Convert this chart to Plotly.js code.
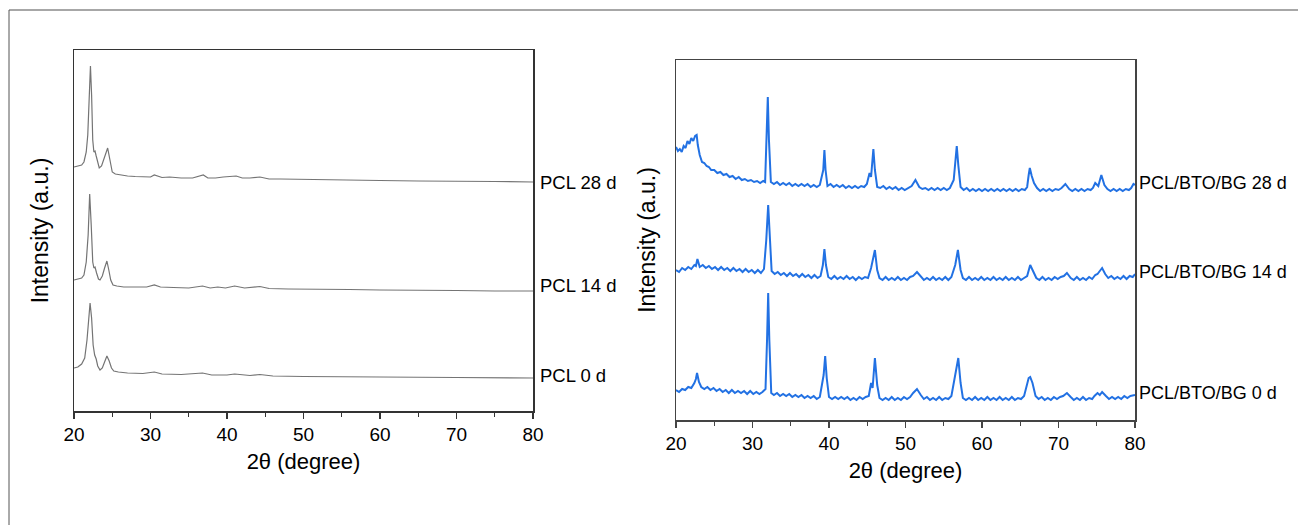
<!DOCTYPE html>
<html>
<head>
<meta charset="utf-8">
<script src="https://cdn.plot.ly/plotly-3.0.1.min.js"></script>
<style>html,body{margin:0;padding:0;background:#fff;}#chart{width:1298px;height:525px;}</style>
</head>
<body>
<div id="chart"></div>
<script>
// ---- Left panel: PCL (2θ in degree, intensity in a.u., stacked) ----
const pcl28_x = [20,20.5,21,21.3,21.6,21.8,22,22.15,22.3,22.45,22.6,22.75,22.9,23.1,23.3,23.6,23.9,24.2,24.4,24.6,24.8,25,25.4,26,27,28,29,30,30.5,31,31.5,32.5,34,35.5,36.5,36.9,37.5,38.5,39.5,40.5,41.2,42,43,44.3,45.5,47,50,55,60,65,70,75,80];
const pcl28_y = [244,245,246,249,259,276,311,345,316,271,259,260,255,248,243,245,251,259,263,255,245,239,237,236,235,234.5,234,234,236,235,233.5,234,233,233,235,236,233,233,234,234.5,235,233,233,234,232,232,231.5,231,230.5,230,230,229.5,229];

const pcl14_x = [20,20.5,21,21.3,21.6,21.85,22.05,22.25,22.45,22.6,22.75,22.95,23.2,23.4,23.7,24,24.3,24.55,24.8,25.1,25.6,26.5,28,29.5,30.5,31.3,33,35,36.8,37.8,38.8,39.8,41,42.3,44.3,45.5,48,52,56,60,65,70,75,80];
const pcl14_y = [131,132,133,136,149,176,217,186,149,143,144,138,132,131,135,143,150,141,131,126,125,124,124,124,126,124,123.5,123,125,123,124,123,125,123,124.5,122.5,122,122,121.5,121,121,120.5,120,120];

const pcl0_x = [20,20.5,21,21.4,21.7,21.95,22.1,22.3,22.5,22.7,22.9,23.1,23.4,23.7,24,24.3,24.6,24.9,25.2,25.8,27,29,30.5,31.5,34,36.8,38,40,41,43,44.3,46,50,55,60,70,80];
const pcl0_y = [43,44,47,53,71,99,108,93,66,56,52,45,41,43,49,55,50,43,40,39,38,37.5,39,37,36.5,38,36,36,37,35.5,36.5,35,34.5,34,34,33.5,33];

// ---- Right panel: PCL/BTO/BG ----
const bg28_x = [20,20.25,20.5,20.75,21,21.25,21.5,21.75,22,22.25,22.5,22.7,22.85,23.1,23.4,23.7,24,24.3,24.6,25,25.4,25.8,26.2,26.6,27,27.4,27.8,28.2,28.6,29,29.4,29.8,30.2,30.6,31,31.4,31.65,31.85,32,32.15,32.4,32.8,33.2,33.6,34,34.4,34.8,35.2,35.6,36,36.4,36.8,37.2,37.6,38,38.4,38.8,39.25,39.4,39.55,39.8,40.2,40.6,41,41.4,41.8,42.2,42.6,43,43.4,43.8,44.2,44.6,44.95,45.3,45.5,45.8,46,46.3,46.7,47.1,47.5,47.9,48.3,48.7,49.1,49.5,49.9,50.3,50.8,51.3,51.8,52.2,52.6,53,53.4,53.8,54.2,54.6,55,55.4,55.8,56.3,56.5,56.7,56.9,57.2,57.6,58,58.4,58.8,59.2,59.6,60,60.4,60.8,61.2,61.6,62,62.4,62.8,63.2,63.6,64,64.4,64.8,65.2,65.6,65.9,66.1,66.25,66.5,66.8,67.2,67.6,68,68.4,68.8,69.2,69.6,70,70.4,70.9,71.4,71.8,72.2,72.6,73,73.4,73.8,74.2,74.5,74.8,75.2,75.6,76,76.4,76.8,77.2,77.6,78,78.4,78.8,79.2,79.5,79.8,80];
const bg28_y = [273,269,271,268,274,272,279,276,282,279,284,285,275,265,258,257,254,253,250,250,247,248,245,246,243,244,241,243,240,241,239,240,238,239,237,239,238,280,323,280,238,236,238,235,237,235,237,234,236,234,236,234,236,233,235,233,235,250,270,250,234,236,233,235,233,235,232,234,232,234,232,234,233,236,247,243,271,250,233,232,234,231,233,231,233,230,232,230,232,234,240,233,231,232,230,232,230,232,230,232,230,232,240,255,274,255,233,230,232,229,231,229,231,229,231,229,231,229,231,229,231,229,231,229,231,229,231,230,233,245,252,244,237,232,229,231,229,231,229,231,230,232,236,231,229,231,229,231,229,231,230,232,237,234,245,235,231,229,231,229,231,229,231,230,232,236,235];

const bg14_x = [20,20.4,20.8,21.2,21.6,22,22.4,22.6,22.8,23.1,23.5,23.9,24.3,24.7,25.1,25.5,25.9,26.3,26.7,27.1,27.5,27.9,28.3,28.7,29.1,29.5,29.9,30.3,30.7,31.1,31.5,31.8,32.05,32.25,32.5,32.9,33.3,33.7,34.1,34.5,34.9,35.3,35.7,36.1,36.5,36.9,37.3,37.7,38.1,38.5,38.9,39.2,39.4,39.6,39.9,40.3,40.7,41.1,41.5,41.9,42.3,42.7,43.1,43.5,43.9,44.3,44.7,45.1,45.5,46,46.3,46.6,47,47.4,47.8,48.2,48.6,49,49.4,49.8,50.2,50.6,51,51.5,52,52.4,52.8,53.2,53.6,54,54.4,54.8,55.2,55.6,56,56.5,56.85,57.2,57.5,57.9,58.3,58.7,59.1,59.5,59.9,60.3,60.7,61.1,61.5,61.9,62.3,62.7,63.1,63.5,63.9,64.3,64.7,65.1,65.5,65.9,66.3,66.7,67.1,67.5,67.9,68.3,68.7,69.1,69.5,69.9,70.3,70.7,71.1,71.6,72,72.4,72.8,73.2,73.6,74,74.4,74.8,75.1,75.3,75.7,76.1,76.5,76.9,77.3,77.7,78.1,78.5,78.9,79.3,79.7,80];
const bg14_y = [150,148,152,150,153,151,155,154,161,153,155,152,154,151,153,150,153,150,152,149,152,149,151,148,151,148,150,147,150,147,151,180,215,180,149,146,148,145,147,144,147,144,146,143,146,143,145,142,145,142,144,155,171,155,143,141,144,141,143,141,144,141,143,140,143,141,143,142,152,170,150,142,140,143,140,142,140,143,140,142,140,143,144,148,143,140,142,140,143,140,142,140,143,140,143,155,170,150,142,140,143,140,142,140,143,140,142,140,143,140,142,140,143,140,142,140,143,140,142,144,155,148,142,140,143,140,142,140,143,141,143,144,147,142,140,143,140,142,140,143,141,145,146,148,152,146,142,144,141,143,141,144,141,144,143,146];

const bg0_x = [20,20.4,20.8,21.2,21.6,22,22.4,22.6,22.75,23,23.3,23.7,24.1,24.5,24.9,25.3,25.7,26.1,26.5,26.9,27.3,27.7,28.1,28.5,28.9,29.3,29.7,30.1,30.5,30.9,31.3,31.7,31.9,32.05,32.2,32.45,32.8,33.2,33.6,34,34.4,34.8,35.2,35.6,36,36.4,36.8,37.2,37.6,38,38.4,38.8,39.3,39.5,39.7,40,40.4,40.8,41.2,41.6,42,42.4,42.8,43.2,43.6,44,44.4,44.8,45.2,45.5,45.7,46,46.3,46.6,47,47.4,47.8,48.2,48.6,49,49.4,49.8,50.2,50.6,51,51.5,52,52.4,52.8,53.2,53.6,54,54.4,54.8,55.2,55.6,56,56.4,56.9,57.2,57.5,57.9,58.3,58.7,59.1,59.5,59.9,60.3,60.7,61.1,61.5,61.9,62.3,62.7,63.1,63.5,63.9,64.3,64.7,65.1,65.5,66.1,66.3,66.6,67,67.4,67.8,68.2,68.6,69,69.4,69.8,70.2,70.6,71.1,71.6,72,72.4,72.8,73.2,73.6,74,74.4,74.7,75.1,75.4,75.7,76.2,76.6,77,77.4,77.8,78.2,78.6,79,79.4,79.8,80];
const bg0_y = [30,28,31,30,33,32,37,41,47,38,33,31,33,30,32,29,31,28,30,27,30,27,29,27,29,26,29,26,28,26,28,31,80,127,80,27,25,27,24,26,24,26,23,25,23,25,22,24,22,24,21,23,45,64,42,23,21,23,21,23,21,23,20,22,20,23,21,23,24,37,32,62,35,22,20,22,20,23,20,22,20,23,21,23,27,31,25,21,23,20,22,20,23,20,22,21,24,42,62,37,22,20,22,20,23,20,22,20,23,20,22,20,23,20,22,20,23,20,22,21,24,42,43,37,24,21,23,20,22,20,23,21,23,24,27,23,20,22,20,23,20,22,21,24,27,25,28,24,21,23,21,23,21,24,22,24,25,25];

const leftLabels = ["PCL 28 d", "PCL 14 d", "PCL 0 d"];
const rightLabels = ["PCL/BTO/BG 28 d", "PCL/BTO/BG 14 d", "PCL/BTO/BG 0 d"];
const xTickVals = [20,30,40,50,60,70,80];
const xTitle = "2θ (degree)";
const yTitle = "Intensity (a.u.)";

const W = 1298, H = 525;
const px = v => v / W, py = v => 1 - v / H;

const grey = "#747474", blue = "#2271e3";
const FONT = "Liberation Sans, Arial, Helvetica, sans-serif";

function tr(x, y, xa, ya, color, width, name) {
  return {x: x, y: y, xaxis: xa, yaxis: ya, type: "scatter", mode: "lines",
          line: {color: color, width: width}, name: name, showlegend: false, hoverinfo: "skip"};
}

const data = [
  tr(pcl28_x, pcl28_y, "x", "y", grey, 1.2, leftLabels[0]),
  tr(pcl14_x, pcl14_y, "x", "y", grey, 1.2, leftLabels[1]),
  tr(pcl0_x, pcl0_y, "x", "y", grey, 1.2, leftLabels[2]),
  tr(bg28_x, bg28_y, "x2", "y2", blue, 2, rightLabels[0]),
  tr(bg14_x, bg14_y, "x2", "y2", blue, 2, rightLabels[1]),
  tr(bg0_x, bg0_y, "x2", "y2", blue, 2, rightLabels[2])
];

function xaxis(domain, anchor, lineColor) {
  return {
    domain: domain, anchor: anchor, range: [20, 80], tickvals: xTickVals,
    showline: true, linecolor: lineColor, linewidth: 1.5, mirror: true,
    ticks: "outside", ticklen: 6, tickwidth: 1.2, tickcolor: lineColor,
    minor: {tickvals: [25,35,45,55,65,75], ticks: "outside", ticklen: 4, tickwidth: 1.2, tickcolor: lineColor},
    showgrid: false, zeroline: false,
    tickfont: {family: FONT, size: 19, color: "#000"},
    title: {text: xTitle, font: {family: FONT, size: 22, color: "#000"}, standoff: 9},
    automargin: false, fixedrange: true
  };
}
function yaxis(domain, anchor, lineColor, range, standoff) {
  return {
    domain: domain, anchor: anchor, range: range,
    showline: true, linecolor: lineColor, linewidth: 1.5, mirror: true,
    ticks: "", showticklabels: false, showgrid: false, zeroline: false,
    title: {text: yTitle, font: {family: FONT, size: 23, color: "#000"}, standoff: standoff},
    automargin: false, fixedrange: true
  };
}

const ann = [];
const leftLabelY = [182, 285, 375];
const rightLabelY = [183, 272, 393];
leftLabels.forEach((t, i) => ann.push({text: t, xref: "paper", yref: "paper", x: px(538), y: py(leftLabelY[i]),
  xanchor: "left", yanchor: "middle", showarrow: false, font: {family: FONT, size: 18.5, color: "#000"}}));
rightLabels.forEach((t, i) => ann.push({text: t, xref: "paper", yref: "paper", x: px(1137), y: py(rightLabelY[i]),
  xanchor: "left", yanchor: "middle", showarrow: false, font: {family: FONT, size: 18, color: "#000"}}));

const layout = {
  width: W, height: H, margin: {l: 0, r: 0, t: 0, b: 0},
  paper_bgcolor: "#fff", plot_bgcolor: "#fff", showlegend: false,
  font: {family: FONT, color: "#000"},
  xaxis: xaxis([px(74), px(533)], "y", "#333"),
  yaxis: yaxis([py(411), py(50)], "x", "#333", [0, 361], 17),
  xaxis2: xaxis([px(676), px(1135)], "y2", "#444"),
  yaxis2: yaxis([py(420), py(60)], "x2", "#444", [0, 360], 12),
  annotations: ann,
  shapes: [
    {type: "line", xref: "paper", yref: "paper", x0: px(9), x1: 1, y0: py(10), y1: py(10), line: {color: "#8a8a8a", width: 1.5}},
    {type: "line", xref: "paper", yref: "paper", x0: px(9), x1: px(9), y0: py(10), y1: 0, line: {color: "#555", width: 1}}
  ]
};

Plotly.newPlot("chart", data, layout, {displayModeBar: false, staticPlot: true});
</script>
</body>
</html>
